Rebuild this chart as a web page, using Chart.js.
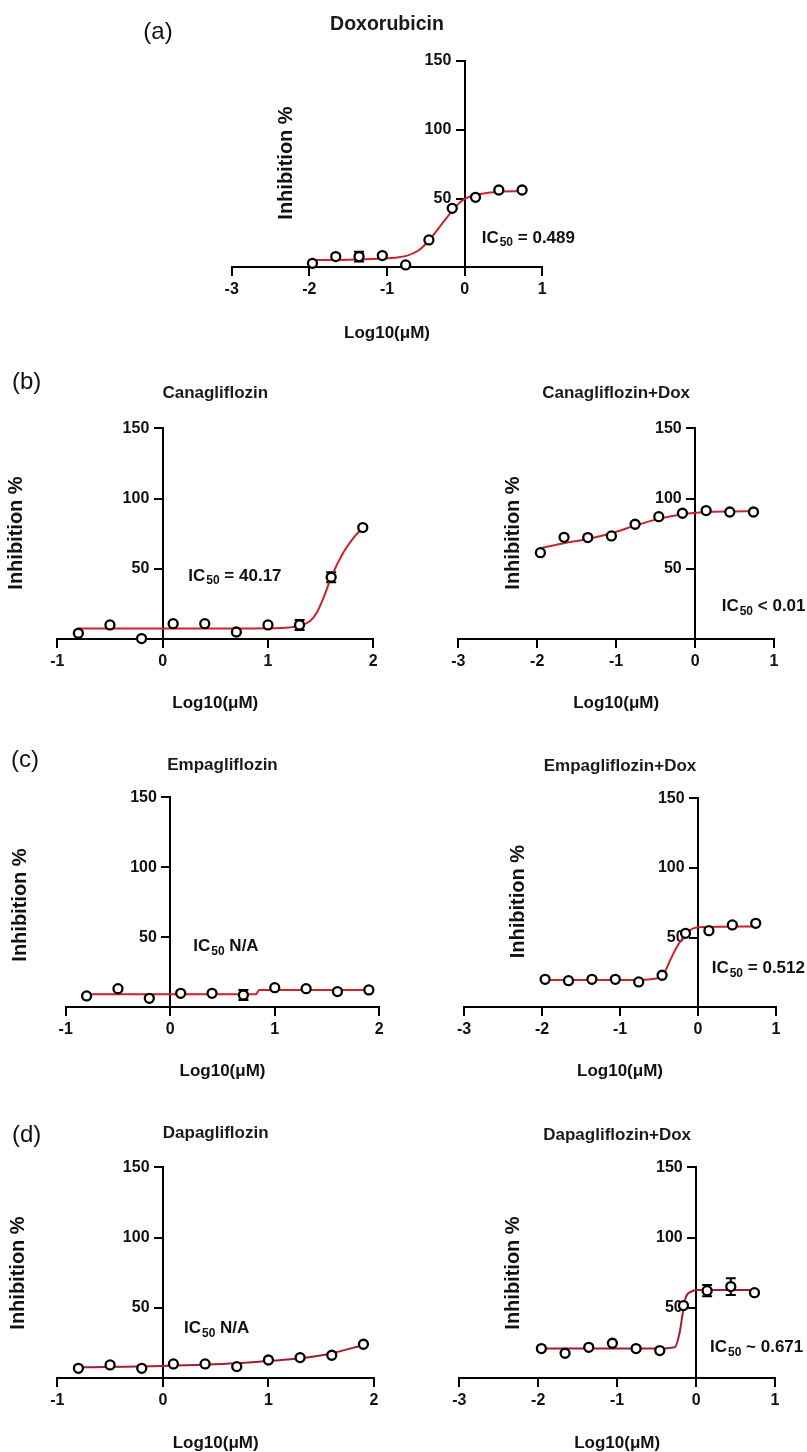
<!DOCTYPE html>
<html>
<head>
<meta charset="utf-8">
<script src="https://cdn.jsdelivr.net/npm/chart.js@4.4.1/dist/chart.umd.min.js"></script>
<style>
  body { margin: 0; background: #fff; }
  #page { position: relative; width: 807px; height: 1452px; overflow: hidden; background: #fff; }
  #page canvas { position: absolute; }
</style>
</head>
<body>
<div id="page">
  <canvas id="dox"></canvas>
  <canvas id="cana"></canvas>
  <canvas id="canaDox"></canvas>
  <canvas id="empa"></canvas>
  <canvas id="empaDox"></canvas>
  <canvas id="dapa"></canvas>
  <canvas id="dapaDox"></canvas>
</div>
<script>
// log10 of the doses (µM)
var doseDox = [-1.96, -1.66, -1.36, -1.06, -0.76, -0.46, -0.16, 0.14, 0.44, 0.74];
var doseSglt = [-0.8, -0.5, -0.2, 0.1, 0.4, 0.7, 1.0, 1.3, 1.6, 1.9];

// mean inhibition % and error (SEM)
var doxInhib = [2.9, 7.8, 7.8, 8.5, 1.7, 19.9, 42.9, 50.9, 56.2, 56.2];
var doxErr = [0, 0, 3.5, 0, 0, 0, 0, 0, 0, 0];
var canaInhib = [4.3, 10.2, 0.5, 11.1, 11.1, 5.2, 10.2, 10.2, 44.1, 79.4];
var canaErr = [0, 0, 0, 0, 0, 0, 0, 3.6, 3.6, 0];
var canaDoxInhib = [61.6, 72.5, 72.3, 73.5, 81.8, 87.2, 89.6, 91.5, 90.5, 90.5];
var canaDoxErr = [0, 0, 0, 0, 0, 0, 0, 0, 0, 0];
var empaInhib = [8.1, 13.3, 6.4, 10, 10, 8.8, 14, 13.3, 11.2, 12.4];
var empaErr = [0, 0, 0, 0, 0, 3.6, 0, 0, 0, 0];
var empaDoxInhib = [20.1, 19.1, 20.1, 20.1, 18.2, 23, 53.1, 55, 59.1, 60.3];
var empaDoxErr = [0, 0, 0, 0, 0, 0, 0, 0, 0, 0];
var dapaInhib = [7.1, 9.5, 7.1, 10.2, 10.2, 8.3, 13, 14.7, 16.4, 24.2];
var dapaErr = [0, 0, 0, 0, 0, 0, 0, 0, 0, 0];
var dapaDoxInhib = [21.1, 17.8, 22, 24.9, 21.1, 19.7, 51.7, 62.3, 65.2, 60.9];
var dapaDoxErr = [0, 0, 0, 0, 0, 0, 0, 4, 6, 0];

// fitted curves at a few x positions
var doxFitX = [-1.96, -1.5, -1.1, -0.9, -0.75, -0.6, -0.46, -0.32, -0.19, -0.1, 0, 0.14, 0.3, 0.45, 0.74];
var doxFitY = [5.3, 5.5, 6.2, 7, 8.3, 12, 19.5, 29.5, 39, 45, 49.7, 52.6, 54.2, 55, 55.3];
var canaFitX = [-0.8, 0, 0.5, 1.0, 1.2, 1.3, 1.4, 1.46, 1.53, 1.6, 1.71, 1.81, 1.9];
var canaFitY = [7.6, 7.6, 7.6, 7.8, 8.4, 9.6, 13, 18.5, 30, 44, 61, 72, 79.4];
var canaDoxFitX = [-1.96, -1.66, -1.36, -1.06, -0.76, -0.46, -0.16, 0.14, 0.44, 0.74];
var canaDoxFitY = [64.7, 68.3, 71.3, 75.4, 80.8, 85.6, 88.9, 90.5, 90.9, 91];
var empaFitX = [-0.8, 0.3, 0.82, 0.85, 1.4, 1.9];
var empaFitY = [9.3, 9.3, 9.3, 12.3, 12.3, 12.3];
var empaDoxFitX = [-1.96, -1.0, -0.7, -0.59, -0.45, -0.355, -0.27, -0.18, -0.1, 0, 0.3, 0.74];
var empaDoxFitY = [19.6, 19.6, 19.8, 20.3, 23.2, 34, 43.5, 50.7, 55.5, 57.4, 57.8, 58];
var dapaFitX = [-0.8, 0, 0.7, 1.0, 1.3, 1.6, 1.9];
var dapaFitY = [7.8, 8.8, 10.7, 12.3, 14.2, 17.8, 23.7];
var dapaDoxFitX = [-1.96, -0.5, -0.27, -0.21, -0.17, -0.13, -0.06, 0, 0.74];
var dapaDoxFitY = [21.1, 21.1, 22, 32, 46, 57.6, 61.6, 62.8, 62.8];

var yTicks = [0, 50, 100, 150];

var FONT = '"Liberation Sans", Arial, sans-serif';
Chart.defaults.font.family = FONT;
Chart.defaults.color = '#111';

function pairs(xs, ys) {
  return xs.map(function (x, i) { return { x: x, y: ys[i] }; });
}

// p: page layout for one panel (all in page pixels)
function makePanel(id, p) {
  var el = document.getElementById(id);
  el.width = p.box.w;
  el.height = p.box.h;
  el.style.left = p.box.x + 'px';
  el.style.top = p.box.y + 'px';
  var ox = p.box.x, oy = p.box.y;
  var lh = p.titleSize * 1.2;
  var xTitlePad = (p.xLabelY - p.area.b) - 8 - 5 - 16 * 1.2 - 17 * 1.2 / 2 - 3.5;

  var decor = {
    id: 'decor',
    beforeDatasetsDraw: function (chart) {
      var ctx = chart.ctx, xs = chart.scales.x, ys = chart.scales.y;
      ctx.save();
      ctx.strokeStyle = '#000';
      ctx.lineWidth = 2;
      p.x.forEach(function (x, i) {
        var e = p.err[i];
        if (!e) return;
        var px = xs.getPixelForValue(x);
        var y1 = ys.getPixelForValue(p.y[i] - e), y2 = ys.getPixelForValue(p.y[i] + e);
        ctx.beginPath();
        ctx.moveTo(px, y1); ctx.lineTo(px, y2);
        ctx.moveTo(px - 5, y1); ctx.lineTo(px + 5, y1);
        ctx.moveTo(px - 5, y2); ctx.lineTo(px + 5, y2);
        ctx.stroke();
      });
      ctx.restore();
    },
    afterDraw: function (chart) {
      var ctx = chart.ctx;
      ctx.save();
      ctx.fillStyle = '#111';
      // y axis title
      ctx.save();
      ctx.translate(p.yLabel.x - ox, p.yLabel.y - oy);
      ctx.rotate(-Math.PI / 2);
      ctx.font = 'bold 20px ' + FONT;
      ctx.textAlign = 'center';
      ctx.textBaseline = 'middle';
      ctx.fillText('Inhibition %', 0, 0);
      ctx.restore();
      // IC50 note
      var ix = p.ic.x - ox, iy = p.ic.y - oy;
      ctx.textAlign = 'left';
      ctx.textBaseline = 'middle';
      ctx.font = 'bold 17px ' + FONT;
      ctx.fillText('IC', ix, iy);
      ix += ctx.measureText('IC').width + 1;
      ctx.font = 'bold 12px ' + FONT;
      ctx.fillText('50', ix, iy + 5);
      ix += ctx.measureText('50').width;
      ctx.font = 'bold 17px ' + FONT;
      ctx.fillText(p.ic.text, ix, iy);
      // panel letter
      if (p.letter) {
        ctx.font = '24px ' + FONT;
        ctx.textAlign = 'center';
        ctx.fillText(p.letter.text, p.letter.x - ox, p.letter.y - oy);
      }
      ctx.restore();
    }
  };

  var tickFont = { size: 16, weight: 'bold' };
  var grid = { drawOnChartArea: false, drawTicks: true, tickLength: 8, tickWidth: 2, lineWidth: 2, color: '#000' };
  var border = { display: true, color: '#000', width: 2 };

  return new Chart(el, {
    type: 'scatter',
    data: {
      datasets: [
        {
          data: pairs(p.x, p.y),
          pointRadius: 4.5,
          pointBorderWidth: 2.3,
          pointBorderColor: '#000',
          pointBackgroundColor: '#fff',
          clip: false
        },
        {
          data: pairs(p.fitX, p.fitY),
          showLine: true,
          pointRadius: 0,
          borderColor: p.color,
          borderWidth: 2,
          cubicInterpolationMode: 'monotone',
          clip: false
        }
      ]
    },
    options: {
      responsive: false,
      animation: false,
      events: [],
      layout: {
        padding: {
          left: p.area.l - ox,
          right: ox + p.box.w - p.area.r,
          top: p.titleY - oy - lh / 2,
          bottom: oy + p.box.h - p.area.b
        }
      },
      plugins: {
        legend: { display: false },
        tooltip: { enabled: false },
        title: {
          display: true,
          fullSize: false,
          text: p.title,
          color: '#1a1a1a',
          font: { size: p.titleSize, weight: 'bold' },
          padding: { top: 0, bottom: p.area.t - p.titleY - lh / 2 }
        }
      },
      scales: {
        x: {
          type: 'linear',
          position: { y: 0 },
          min: p.xMin,
          max: p.xMax,
          ticks: { stepSize: 1, font: tickFont, color: '#111', padding: 5 },
          grid: grid,
          border: border,
          title: {
            display: true,
            text: 'Log10(μM)',
            color: '#111',
            font: { size: 17, weight: 'bold' },
            padding: { top: xTitlePad, bottom: 0 }
          }
        },
        y: {
          type: 'linear',
          position: { x: 0 },
          min: yTicks[0],
          max: yTicks[yTicks.length - 1],
          afterBuildTicks: function (s) { s.ticks = yTicks.map(function (v) { return { value: v }; }); },
          ticks: {
            font: tickFont,
            color: '#111',
            // a crossing axis draws its labels flush with the line: trailing spaces keep them clear of the tick marks
            callback: function (v) { return v === 0 ? '' : String(v) + '   '; }
          },
          grid: grid,
          border: border
        }
      }
    },
    plugins: [decor]
  });
}

var RED = '#cc2229';
var DARKRED = '#a51d2d';

makePanel('dox', {
  title: 'Doxorubicin', titleSize: 19.5, titleY: 25,
  box: { x: 130, y: 0, w: 470, h: 345 },
  area: { l: 231.7, r: 542.3, t: 61, b: 267.3 },
  xMin: -3, xMax: 1, xLabelY: 332,
  yLabel: { x: 286.7, y: 163 },
  ic: { x: 481.7, y: 238, text: ' = 0.489' },
  letter: { text: '(a)', x: 158, y: 32 },
  x: doseDox, y: doxInhib, err: doxErr, fitX: doxFitX, fitY: doxFitY, color: RED
});
makePanel('cana', {
  title: 'Canagliflozin', titleSize: 17, titleY: 393.3,
  box: { x: 0, y: 370, w: 403, h: 345 },
  area: { l: 57.3, r: 373.3, t: 428.3, b: 639.3 },
  xMin: -1, xMax: 2, xLabelY: 701.7,
  yLabel: { x: 16, y: 533 },
  ic: { x: 188.3, y: 576, text: ' = 40.17' },
  letter: { text: '(b)', x: 26.7, y: 382 },
  x: doseSglt, y: canaInhib, err: canaErr, fitX: canaFitX, fitY: canaFitY, color: RED
});
makePanel('canaDox', {
  title: 'Canagliflozin+Dox', titleSize: 17, titleY: 393.3,
  box: { x: 403, y: 370, w: 404, h: 345 },
  area: { l: 458.3, r: 774, t: 428.3, b: 639.3 },
  xMin: -3, xMax: 1, xLabelY: 701.7,
  yLabel: { x: 513.3, y: 533 },
  ic: { x: 721.7, y: 606.7, text: ' < 0.01' },
  x: doseDox, y: canaDoxInhib, err: canaDoxErr, fitX: canaDoxFitX, fitY: canaDoxFitY, color: RED
});
makePanel('empa', {
  title: 'Empagliflozin', titleSize: 17, titleY: 765,
  box: { x: 0, y: 745, w: 403, h: 340 },
  area: { l: 65.7, r: 379.3, t: 797.3, b: 1007.3 },
  xMin: -1, xMax: 2, xLabelY: 1070,
  yLabel: { x: 20, y: 905 },
  ic: { x: 193.3, y: 946.7, text: ' N/A' },
  letter: { text: '(c)', x: 25, y: 760 },
  x: doseSglt, y: empaInhib, err: empaErr, fitX: empaFitX, fitY: empaFitY, color: RED
});
makePanel('empaDox', {
  title: 'Empagliflozin+Dox', titleSize: 17, titleY: 766,
  box: { x: 403, y: 745, w: 404, h: 340 },
  area: { l: 464, r: 776, t: 798.3, b: 1007.3 },
  xMin: -3, xMax: 1, xLabelY: 1070,
  yLabel: { x: 518.3, y: 901.7 },
  ic: { x: 711.7, y: 968.3, text: ' = 0.512' },
  x: doseDox, y: empaDoxInhib, err: empaDoxErr, fitX: empaDoxFitX, fitY: empaDoxFitY, color: RED
});
makePanel('dapa', {
  title: 'Dapagliflozin', titleSize: 17, titleY: 1133,
  box: { x: 0, y: 1115, w: 403, h: 337 },
  area: { l: 57.3, r: 374, t: 1167.3, b: 1378.3 },
  xMin: -1, xMax: 2, xLabelY: 1441.7,
  yLabel: { x: 18.3, y: 1273 },
  ic: { x: 184, y: 1328.3, text: ' N/A' },
  letter: { text: '(d)', x: 26.7, y: 1135 },
  x: doseSglt, y: dapaInhib, err: dapaErr, fitX: dapaFitX, fitY: dapaFitY, color: DARKRED
});
makePanel('dapaDox', {
  title: 'Dapagliflozin+Dox', titleSize: 17, titleY: 1135,
  box: { x: 403, y: 1115, w: 404, h: 337 },
  area: { l: 459.3, r: 775, t: 1167.3, b: 1378.3 },
  xMin: -3, xMax: 1, xLabelY: 1441.7,
  yLabel: { x: 513.3, y: 1273 },
  ic: { x: 710, y: 1347.3, text: ' ~ 0.671' },
  x: doseDox, y: dapaDoxInhib, err: dapaDoxErr, fitX: dapaDoxFitX, fitY: dapaDoxFitY, color: DARKRED
});
</script>
</body>
</html>
